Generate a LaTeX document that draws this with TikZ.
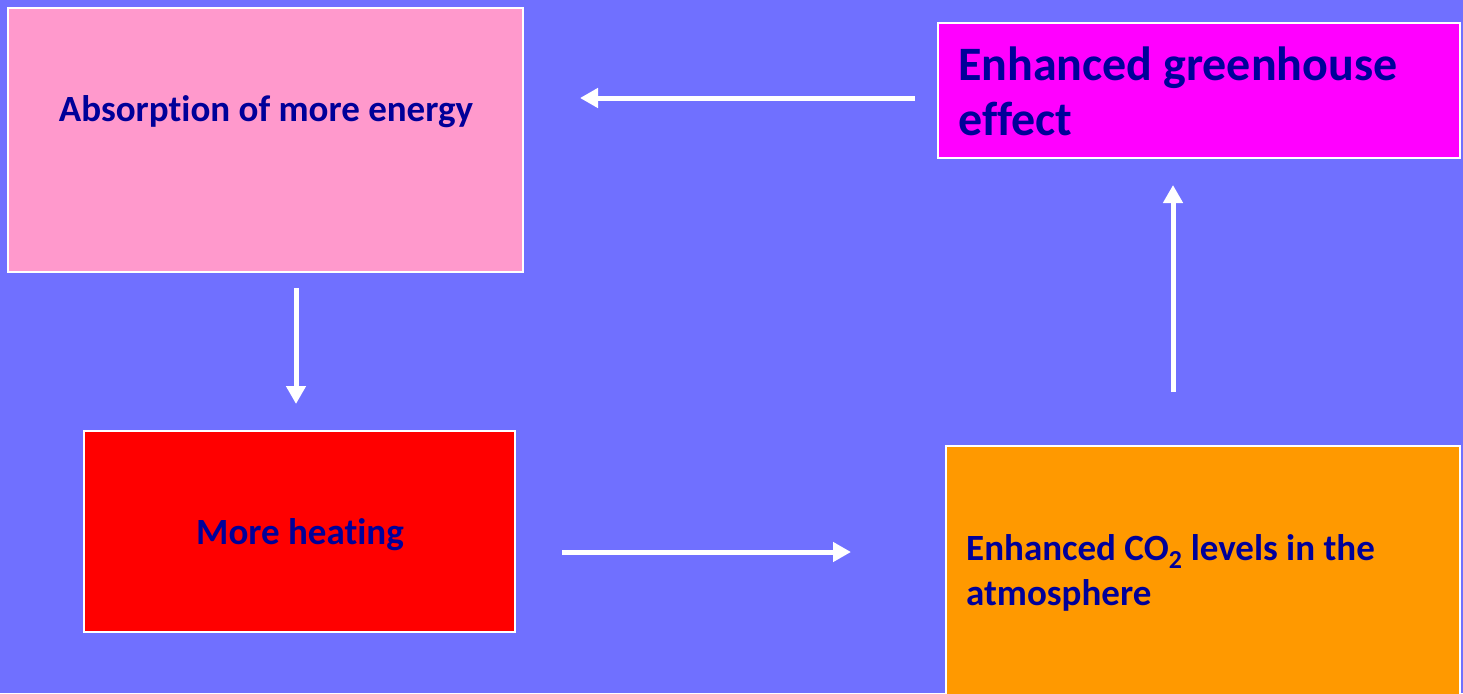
\documentclass[tikz,border=0pt]{standalone}
\usepackage{fontspec}
\setmainfont{Carlito}[RawFeature=-liga]
\usetikzlibrary{arrows.meta}
\definecolor{bg}{RGB}{112,112,255}
\definecolor{txt}{RGB}{0,0,153}
\definecolor{pinkbox}{RGB}{255,153,204}
\definecolor{magbox}{RGB}{255,0,255}
\definecolor{redbox}{RGB}{255,0,0}
\definecolor{orbox}{RGB}{255,153,0}
\begin{document}
\begin{tikzpicture}[x=1pt,y=-1pt,
  box/.style={draw=white,line width=1.5pt},
  lbl/.style={text=txt,font=\bfseries\fontsize{37}{44}\selectfont,inner sep=0pt},
  flow/.style={draw=white,line width=5pt,-{Triangle[length=18pt,width=19pt]}}]
\fill[bg] (0,0) rectangle (1463,693);
\useasboundingbox (0,0) rectangle (1463,693);
\filldraw[box,fill=pinkbox] (8,8) rectangle (523,272);
\filldraw[box,fill=magbox] (938,23) rectangle (1460,158);
\filldraw[box,fill=redbox] (84,431) rectangle (515,632);
\filldraw[box,fill=orbox] (946,446) rectangle (1460,700);
\node[lbl] (abs) at (266,112) {Absorption of more energy};
\node[lbl] (heat) at (300,535) {More heating};
\node[lbl,anchor=base west,align=left,font=\bfseries\fontsize{48}{55}\selectfont] (ghe) at (958,135) {Enhanced greenhouse\\effect};
\node[lbl,anchor=base west,align=left,font=\bfseries\fontsize{37}{45}\selectfont] (co2) at (966,605) {Enhanced CO\textsubscript{2} levels in the\\atmosphere};
\coordinate (a1s) at (915,98); \coordinate (a1e) at (580,98);
\coordinate (a2s) at (296,288); \coordinate (a2e) at (296,404);
\coordinate (a3s) at (562,552); \coordinate (a3e) at (851,552);
\coordinate (a4s) at (1173,392); \coordinate (a4e) at (1173,185);
\draw[flow] (a1s) -- (a1e);
\draw[flow] (a2s) -- (a2e);
\draw[flow] (a3s) -- (a3e);
\draw[flow] (a4s) -- (a4e);
\end{tikzpicture}
\end{document}
